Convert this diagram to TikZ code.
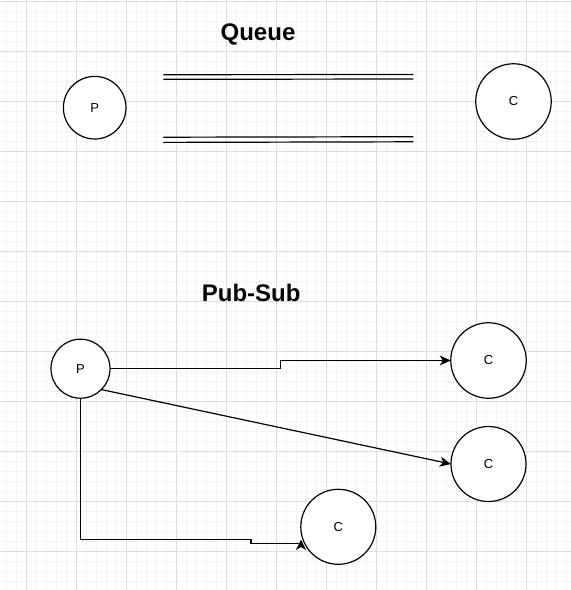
\documentclass[tikz,border=0pt]{standalone}
\usepackage{fontspec}
\setmainfont{Liberation Sans}
\usetikzlibrary{arrows.meta}
\definecolor{gridminor}{HTML}{F3F3F3}
\definecolor{gridmajor}{HTML}{DDDDDD}
\tikzset{
  ball/.style={circle, draw=black, line width=1.2pt, fill=white, inner sep=0pt, outer sep=0pt, font=\fontsize{13}{15}\selectfont},
  title/.style={font=\fontsize{24}{28}\selectfont\bfseries, inner sep=0pt, anchor=base},
  wire/.style={draw=black, line width=1.2pt},
  arr/.style={wire, -{Stealth[length=11pt, width=10pt, inset=3pt]}},
  pipe/.style={draw=black, line width=1.2pt}
}
\begin{document}
\begin{tikzpicture}[x=1pt, y=-1pt]
\useasboundingbox (0,0) rectangle (571,590);
\fill[white] (0,0) rectangle (571,590);
% grid
\foreach \x in {6.7,16.7,...,570} \draw[gridminor, line width=1pt] (\x,0) -- (\x,590);
\foreach \y in {1.7,11.7,...,590} \draw[gridminor, line width=1pt] (0,\y) -- (571,\y);
\foreach \x in {26.7,76.7,...,570} \draw[gridmajor, line width=1pt] (\x,0) -- (\x,590);
\foreach \y in {1.7,51.7,...,590} \draw[gridmajor, line width=1pt] (0,\y) -- (571,\y);

% Queue
\node[title] (tq) at (258,40.7) {Queue};
\node[ball, minimum size=62.6pt] (qp) at (94.7,107.7) {P};
\node[ball, minimum size=75.5pt] (qc) at (513.5,101.5) {C};
\draw[pipe] (163.3,74.7) -- (413.3,74.5);
\draw[pipe] (163.3,79.3) -- (413.3,79.0);
\draw[pipe] (163.3,137.2) -- (413.3,136.7);
\draw[pipe] (163.3,142.4) -- (413.3,141.8);

% Pub-Sub
\node[title] (tp) at (251.2,301.7) {Pub-Sub};
\node[ball, minimum size=59pt] (pp) at (80.5,368.7) {P};
\node[ball, minimum size=75.5pt] (c1) at (488.5,360.5) {C};
\node[ball, minimum size=75pt] (c2) at (488.5,464) {C};
\node[ball, minimum size=75pt] (c3) at (338.3,526.8) {C};

\coordinate (s1) at (280.7,364);
\draw[arr] (pp.east) -| (s1) |- (c1.west);
\draw[arr] (pp.south east) -- (c2.west);

\coordinate (b3a) at (251,539.3);
\coordinate (b3b) at (251,543.5);
\coordinate (c3end) at (300,543.5);
\coordinate (c3tip) at (301,539.5);
\draw[wire] (pp.south) |- (b3a) -- (b3b) -- (c3end);
\fill[black] (c3tip) -- ++(5,10.5) -- ++(-5,-3) -- ++(-5,3) -- cycle;
\end{tikzpicture}
\end{document}
